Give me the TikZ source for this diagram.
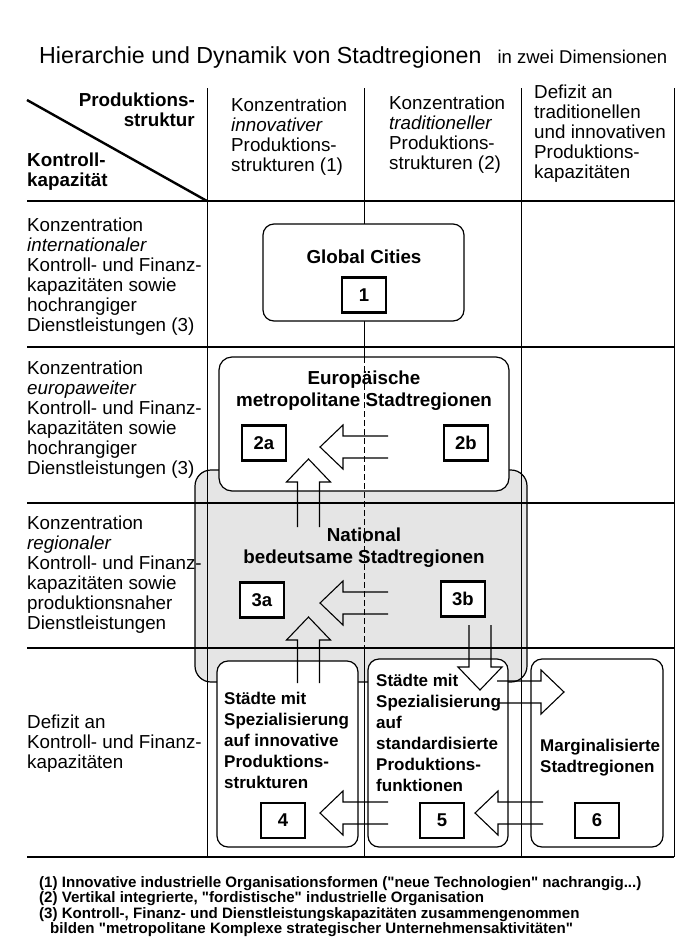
\documentclass[tikz,border=0pt]{standalone}
\usepackage{fontspec}
\setmainfont{Liberation Sans}
\usetikzlibrary{positioning}

\begin{document}
\begin{tikzpicture}[x=1pt,y=-1pt,
  hline/.style={line width=1.4pt},
  vline/.style={line width=1pt},
  midline/.style={line width=0.7pt, dash pattern=on 6pt off 3pt},
  rbox/.style={draw, line width=1.2pt, rounded corners=11pt, fill=white, inner sep=0pt},
  numbox/.style={draw, line width=2.4pt, fill=white, minimum width=44pt, minimum height=35pt,
    inner sep=0pt, font=\bfseries\fontsize{18.5}{20}\selectfont},
  blockarr/.style={line width=1.1pt, line join=miter},
  lbl/.style={anchor=north west, align=left, inner sep=0pt, font=\fontsize{18.8}{20}\selectfont},
  hdr/.style={lbl, font=\bfseries\fontsize{18.8}{20}\selectfont},
  boxtxt/.style={align=center, inner sep=0pt, font=\bfseries\fontsize{18.8}{22}\selectfont},
  celltxt/.style={anchor=north west, align=left, inner sep=0pt, font=\bfseries\fontsize{17}{21}\selectfont}]
  \useasboundingbox (0,0) rectangle (677,938);

  % open block arrow: #1 tip, #2 direction, #3 length
  \def\barr#1#2#3{
    \begin{scope}[shift={(#1)},rotate=#2]
      \draw[blockarr] (-#3,-11) -- (-23,-11) -- (-23,-22) -- (0,0) -- (-23,22) -- (-23,11) -- (-#3,11);
    \end{scope}
  }
  \def\q{\textquotedbl}

  \node[anchor=base west, inner sep=0pt] (title) at (39,63)
    {\fontsize{23.2}{26}\selectfont Hierarchie und Dynamik von Stadtregionen\hspace{16pt}\fontsize{18.5}{20}\selectfont in zwei Dimensionen};

  % national regions (grey, below the grid)
  \node[rbox, fill=black!10, rounded corners=16pt, minimum width=332, minimum height=212] (nat) at (361,576) {};

  % grid
  \foreach \y in {201,347,503,648,857}
    \draw[hline] (27,\y) -- (674,\y);
  \foreach \x in {207,521,674}
    \draw[vline] (\x,88) -- (\x,857);
  \draw[vline] (364,88) -- (364,357);
  \draw[vline] (364,650) -- (364,857);
  \draw[line width=2.4pt] (27,100) -- (207,201);

  % city boxes
  \node[rbox, minimum width=201, minimum height=97] (gc) at (363.5,272.5) {};
  \node[rbox, rounded corners=13pt, minimum width=290, minimum height=134] (euro) at (364,424) {};
  \node[rbox, minimum width=141, minimum height=186] (b4) at (287.5,754) {};
  \node[rbox, minimum width=140, minimum height=188] (b5) at (438,753) {};
  \node[rbox, minimum width=132, minimum height=188] (b6) at (597,753) {};
  \draw[midline] (364,357) -- (364,650);

  % arrows
  \coordinate (ta2) at (320,447);
  \coordinate (tu2) at (308.5,459);
  \coordinate (ta3) at (320,603);
  \coordinate (tu3) at (308.5,617);
  \coordinate (td) at (480,690);
  \coordinate (tr) at (564,692);
  \coordinate (ta4) at (320,813);
  \coordinate (ta5) at (475,813);
  \foreach \t/\a/\l in {ta2/180/68, tu2/90/68, ta3/180/68, tu3/90/66, td/-90/65, tr/0/67, ta4/180/68, ta5/180/68}
    \barr\t\a\l;

  % numbers
  \node[numbox] (n1) at (364,295) {1};
  \node[numbox] (n2a) at (264,443) {2a};
  \node[numbox] (n2b) at (466,443) {2b};
  \node[numbox] (n3a) at (262,600) {3a};
  \node[numbox] (n3b) at (463,599) {3b};
  \node[numbox] (n4) at (283,820.5) {4};
  \node[numbox] (n5) at (442,820.5) {5};
  \node[numbox] (n6) at (597,820.5) {6};

  % head of the table
  \node[hdr, anchor=north east, align=right] (hprod) at (195,93) {Produktions-\\struktur};
  \node[hdr] (hkontr) at (27,153) {Kontroll-\\kapazität};
  \node[lbl] (c2) at (231,98) {Konzentration\\\textit{innovativer}\\Produktions-\\strukturen (1)};
  \node[lbl] (c3) at (389,96) {Konzentration\\\textit{traditioneller}\\Produktions-\\strukturen (2)};
  \node[lbl] (c4) at (534,85) {Defizit an\\traditionellen\\und innovativen\\Produktions-\\kapazitäten};

  % rows
  \node[lbl] (r1) at (27,218) {Konzentration\\\textit{internationaler}\\Kontroll- und Finanz-\\kapazitäten sowie\\hochrangiger\\Dienstleistungen (3)};
  \node[lbl] (r2) at (27,361) {Konzentration\\\textit{europaweiter}\\Kontroll- und Finanz-\\kapazitäten sowie\\hochrangiger\\Dienstleistungen (3)};
  \node[lbl] (r3) at (27,516) {Konzentration\\\textit{regionaler}\\Kontroll- und Finanz-\\kapazitäten sowie\\produktionsnaher\\Dienstleistungen};
  \node[lbl] (r4) at (27,715) {Defizit an\\Kontroll- und Finanz-\\kapazitäten};

  % box texts
  \node[boxtxt] (gctxt) at (364,257) {Global Cities};
  \node[boxtxt] (eutxt) at (364,391) {Europäische\\metropolitane Stadtregionen};
  \node[boxtxt] (nattxt) at (364,548) {National\\bedeutsame Stadtregionen};
  \node[celltxt] (b4txt) at (224,692) {Städte mit\\Spezialisierung\\auf innovative\\Produktions-\\strukturen};
  \node[celltxt] (b5txt) at (376,674) {Städte mit\\Spezialisierung\\auf\\standardisierte\\Produktions-\\funktionen};
  \node[celltxt] (b6txt) at (540,739) {Marginalisierte\\Stadtregionen};

  % notes
  \node[anchor=north west, align=left, inner sep=0pt, font=\bfseries\fontsize{15.1}{15.5}\selectfont] (notes) at (39,876)
    {(1) Innovative industrielle Organisationsformen (\q neue Technologien\q\ nachrangig...)\\
     (2) Vertikal integrierte, \q fordistische\q\ industrielle Organisation\\
     (3) Kontroll-, Finanz- und Dienstleistungskapazitäten zusammengenommen\\
     \hspace*{11pt}bilden \q metropolitane Komplexe strategischer Unternehmensaktivitäten\q};
\end{tikzpicture}
\end{document}
